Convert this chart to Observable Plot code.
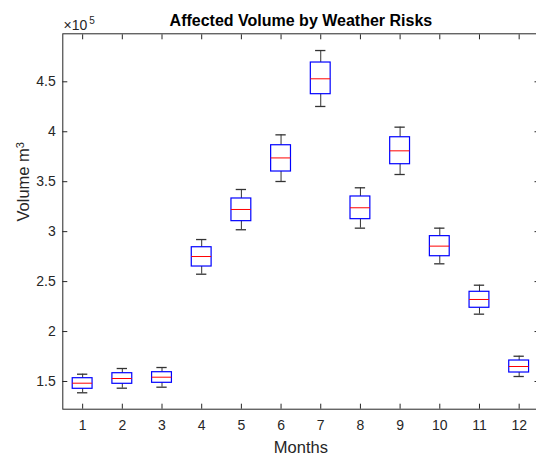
<!DOCTYPE html>
<html><head><meta charset="utf-8">
<script src="https://cdn.jsdelivr.net/npm/d3@7"></script>
<script src="https://cdn.jsdelivr.net/npm/@observablehq/plot@0.6"></script>
<style>html,body{margin:0;padding:0;background:#fff;overflow:hidden}</style>
</head><body><div id="chart"></div>
<script>
const months = [1, 2, 3, 4, 5, 6, 7, 8, 9, 10, 11, 12];
const monthLabels = ["1", "2", "3", "4", "5", "6", "7", "8", "9", "10", "11", "12"];
const whiskerLow  = [138700, 143300, 144300, 257400, 301900, 350200, 425300, 303500, 357200, 267800, 217400, 155000];
const quartile1   = [142700, 147700, 148700, 265100, 310500, 360200, 437600, 312500, 367500, 275400, 223800, 159000];
const medianVals  = [148300, 153000, 154300, 275100, 322200, 373800, 453000, 323900, 380900, 285500, 232100, 165000];
const quartile3   = [153300, 158300, 159300, 284400, 333200, 386500, 469300, 335200, 394500, 295500, 239800, 171000];
const whiskerHigh = [157300, 163000, 164000, 292100, 342200, 396900, 481300, 343900, 404600, 303500, 246400, 175300];
const yTicks = [150000, 200000, 250000, 300000, 350000, 400000, 450000];
const yTickLabels = ["1.5", "2", "2.5", "3", "3.5", "4", "4.5"];
const titleText = "Affected Volume by Weather Risks";
const xLabelText = "Months";
const yLabelText = "Volume m";
const yLabelSup = "3";

const rows = months.map((m, i) => ({
  month: m, lo: whiskerLow[i], q1: quartile1[i], med: medianVals[i], q3: quartile3[i], hi: whiskerHigh[i]
}));

const ink = "#262626";
const boxHalf = 0.25, capHalf = 0.13;

const chart = Plot.plot({
  width: 536, height: 455,
  marginLeft: 62.3, marginRight: -2.5, marginTop: 33.3, marginBottom: 46.3,
  style: {fontFamily: "'Liberation Sans', Arial, Helvetica, sans-serif", fontSize: "14px", color: ink, background: "#fff"},
  x: {domain: [0.5, 12.5]},
  y: {domain: [122270, 498050]},
  marks: [
    Plot.ruleX(rows, {x: "month", y1: "q3", y2: "hi", stroke: "#333", strokeWidth: 1}),
    Plot.ruleX(rows, {x: "month", y1: "lo", y2: "q1", stroke: "#333", strokeWidth: 1}),
    Plot.ruleY(rows, {y: "hi", x1: d => d.month - capHalf, x2: d => d.month + capHalf, stroke: "#333", strokeWidth: 1.3}),
    Plot.ruleY(rows, {y: "lo", x1: d => d.month - capHalf, x2: d => d.month + capHalf, stroke: "#333", strokeWidth: 1.3}),
    Plot.rect(rows, {x1: d => d.month - boxHalf, x2: d => d.month + boxHalf, y1: "q1", y2: "q3", stroke: "#0000ff", fill: "none", strokeWidth: 1.2}),
    Plot.ruleY(rows, {y: "med", x1: d => d.month - boxHalf, x2: d => d.month + boxHalf, stroke: "#ff0000", strokeWidth: 1}),
    Plot.frame({stroke: ink}),
    Plot.axisX(months, {anchor: "bottom", tickSize: -5, fill: "none", stroke: ink, label: null}),
    Plot.axisX(months, {anchor: "top", tickSize: -5, fill: "none", stroke: ink, label: null}),
    Plot.axisX(months, {anchor: "bottom", tickSize: 0, tickPadding: 11, tickFormat: d => monthLabels[months.indexOf(d)], fill: ink, label: null, fontSize: 14}),
    Plot.axisY(yTicks, {anchor: "left", tickSize: -5, fill: "none", stroke: ink, label: null}),
    Plot.axisY(yTicks, {anchor: "right", tickSize: -5, fill: "none", stroke: ink, label: null}),
    Plot.axisY(yTicks, {anchor: "left", tickSize: 0, tickPadding: 7, tickFormat: d => yTickLabels[yTicks.indexOf(d)], fill: ink, label: null, fontSize: 14}),
    Plot.text([titleText], {text: d => d, frameAnchor: "top", dy: -7.6, lineAnchor: "bottom", fontWeight: "bold", fontSize: 16, fill: "#000"}),
    Plot.text([xLabelText], {text: d => d, frameAnchor: "bottom", dy: 43.5, lineAnchor: "bottom", fontSize: 16.5, fill: ink}),
    Plot.text([yLabelText], {text: d => d, frameAnchor: "left", dx: -34, rotate: -90, lineAnchor: "bottom", fontSize: 16.5, fill: ink, className: "ylab"}),
    Plot.text(["×10"], {text: d => d, frameAnchor: "top-left", dx: 0.7, dy: -4.3, textAnchor: "start", lineAnchor: "bottom", fontSize: 14, fill: ink}),
    Plot.text(["5"], {text: d => d, frameAnchor: "top-left", dx: 26.5, dy: -10, textAnchor: "start", lineAnchor: "bottom", fontSize: 10, fill: ink})
  ]
});
// add the superscript "3" to the y label as a real tspan
d3.select(chart).selectAll("g.ylab text").each(function() {
  const t = d3.select(this);
  t.append("tspan").attr("dy", "-0.45em").attr("font-size", "11px").text(yLabelSup);
});
document.getElementById("chart").appendChild(chart);
</script>
</body></html>
